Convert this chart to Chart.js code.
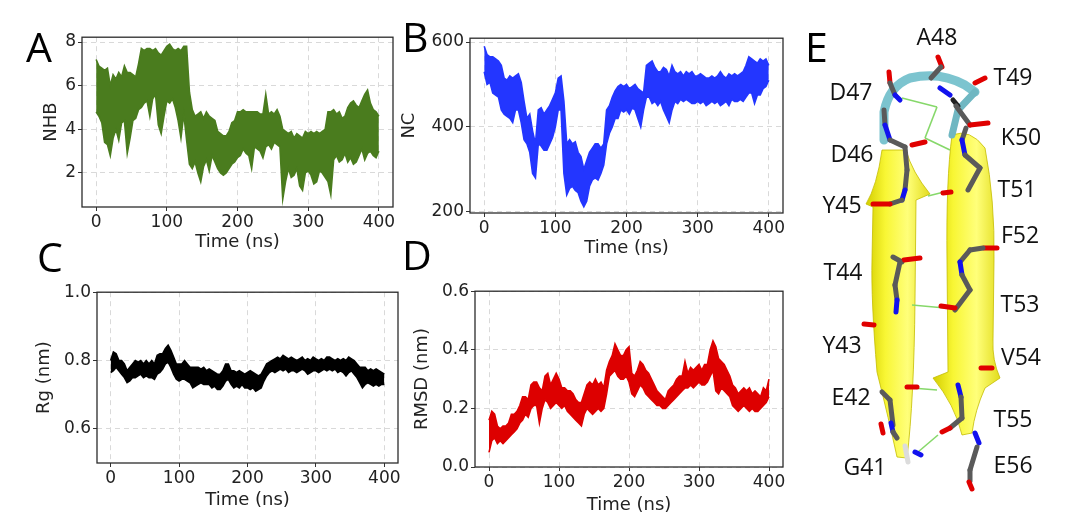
<!DOCTYPE html>
<html>
<head>
<meta charset="utf-8">
<script src="https://cdn.jsdelivr.net/npm/chart.js@4.4.1/dist/chart.umd.min.js"></script>
<style>
  html, body { margin: 0; padding: 0; background: #ffffff; }
  #wrap { position: relative; width: 1080px; height: 524px; overflow: hidden; background: #fff; }
  canvas { position: absolute; }
  #art { position: absolute; left: 0; top: 0; }
  .lbl { font-family: "Open Sans", "Liberation Sans", sans-serif; font-size: 23px; fill: #111; }
  .pl { font-family: "Open Sans", "Liberation Sans", sans-serif; font-size: 41px; fill: #000; }
</style>
</head>
<body>
<div id="wrap">
  <canvas id="cA" width="366" height="232" style="left:37px;top:25px"></canvas>
  <canvas id="cB" width="398" height="237" style="left:395px;top:26px"></canvas>
  <canvas id="cC" width="378" height="235" style="left:30px;top:280px"></canvas>
  <canvas id="cD" width="385" height="241" style="left:408px;top:279px"></canvas>
  <svg id="art" width="1080" height="524" xmlns="http://www.w3.org/2000/svg">
    <defs>
      <linearGradient id="yl" x1="0" x2="1" y1="0" y2="0">
        <stop offset="0" stop-color="#d4ce00"/>
        <stop offset="0.3" stop-color="#f8f634"/>
        <stop offset="0.65" stop-color="#ffff7a"/>
        <stop offset="1" stop-color="#e2dc1c"/>
      </linearGradient>
    </defs>
    <text class="pl" x="26" y="62">A</text>
    <text class="pl" x="402" y="52">B</text>
    <text class="pl" x="37" y="272">C</text>
    <text class="pl" x="402" y="270">D</text>
    <text class="pl" x="805" y="62">E</text>
    <g id="mol"></g>
  </svg>
</div>
<script>
// ---- data: upper / lower edge of each trace, every 4 ns from 0 to 400 ns ----
const timeTitle = 'Time (ns)';
const xTickValues = [0, 100, 200, 300, 400];
const yTicksA = [2, 4, 6, 8];
const yTicksB = [200, 400, 600];
const yTicksC = [0.6, 0.8, 1.0];
const yTicksD = [0.0, 0.2, 0.4, 0.6];

const nhbHi = [
  7.2, 6.9, 6.8, 6.7, 6.8, 6.0, 6.5, 6.3, 6.6, 6.4,
  6.9, 6.6, 6.6, 6.5, 6.4, 7.0, 7.7, 7.6, 7.7, 7.7,
  7.6, 7.7, 7.5, 7.4, 7.6, 7.8, 7.9, 7.7, 7.6, 7.7,
  7.6, 7.8, 7.8, 5.7, 4.9, 4.6, 4.7, 4.8, 4.5, 4.8,
  4.6, 4.5, 4.4, 3.9, 3.8, 3.7, 3.7, 3.9, 4.3, 4.4,
  4.8, 4.8, 4.9, 4.8, 4.8, 4.8, 4.8, 4.8, 4.7, 4.7,
  5.6, 4.7, 4.8, 4.7, 4.9, 4.6, 4.0, 3.9, 3.8, 3.9,
  3.6, 3.8, 3.7, 3.6, 3.9, 3.8, 3.9, 3.8, 3.9, 3.8,
  3.9, 4.0, 4.8, 4.8, 4.9, 4.7, 4.8, 4.5, 4.6, 5.0,
  5.2, 5.3, 5.1, 5.0, 5.3, 5.6, 5.8, 5.2, 4.9, 4.8,
  4.6
];
const nhbLo = [
  4.8, 4.6, 4.3, 3.4, 3.3, 2.8, 3.6, 4.0, 3.5, 4.3,
  4.4, 2.9, 3.6, 4.4, 4.5, 4.9, 5.0, 5.2, 5.3, 4.6,
  5.4, 5.6, 4.2, 3.8, 4.6, 5.3, 5.2, 5.4, 5.0, 4.4,
  3.6, 4.7, 3.5, 2.4, 2.2, 2.5, 2.0, 1.6, 2.3, 2.6,
  2.1, 2.8, 2.5, 2.2, 2.0, 1.9, 2.0, 2.2, 2.4, 2.5,
  2.7, 2.8, 3.1, 2.9, 2.8, 2.2, 3.2, 3.1, 3.0, 2.7,
  3.2, 3.3, 3.1, 3.4, 3.3, 3.2, 0.8, 1.6, 2.2, 1.8,
  1.9, 2.2, 1.4, 1.2, 2.0, 2.1, 1.9, 1.5, 1.6, 2.1,
  2.0, 1.8, 1.6, 1.0, 2.6, 2.8, 2.5, 2.6, 2.9, 2.5,
  2.7, 2.4, 2.5, 2.8, 3.1, 2.6, 2.9, 3.0, 2.8, 2.7,
  3.0
];

const ncHi = [
  590, 570, 565, 565, 560, 555, 545, 515, 510, 520,
  515, 520, 525, 505, 460, 420, 430, 390, 360, 440,
  445, 430, 440, 450, 465, 480, 515, 520, 460, 360,
  370, 360, 365, 340, 330, 300, 320, 340, 350, 360,
  360, 350, 360, 440, 450, 470, 485, 495, 500, 495,
  500, 490, 495, 500, 490, 485, 480, 545, 550, 555,
  540, 530, 530, 540, 535, 520, 545, 530, 525, 530,
  520, 530, 525, 530, 520, 520, 525, 520, 515, 515,
  520, 515, 520, 530, 520, 515, 525, 520, 525, 520,
  525, 530, 545, 565, 560, 555, 550, 560, 555, 560,
  545
];
const ncLo = [
  530, 500, 505, 480, 475, 470, 440, 430, 425, 420,
  410, 440, 440, 410, 370, 360, 340, 290, 280, 360,
  355, 345, 345, 360, 375, 400, 440, 440, 290, 240,
  255, 260, 250, 245, 225, 212, 225, 260, 275, 280,
  275, 290, 310, 360, 385, 400, 420, 420, 440, 435,
  440, 430, 445, 440, 420, 400, 440, 470, 470, 455,
  460, 450, 460, 440, 425, 410, 440, 460, 455, 465,
  460, 465, 460, 455, 455, 460, 455, 460, 450, 455,
  460, 455, 460, 450, 455, 460, 450, 465, 460, 460,
  465, 460, 470, 480, 480, 455, 475, 475, 490, 495,
  510
];

const rgHi = [
  0.80, 0.825, 0.82, 0.80, 0.80, 0.79, 0.77, 0.78, 0.79, 0.80,
  0.795, 0.80, 0.79, 0.80, 0.79, 0.80, 0.79, 0.815, 0.82, 0.82,
  0.835, 0.845, 0.83, 0.81, 0.79, 0.79, 0.79, 0.80, 0.79, 0.78,
  0.78, 0.78, 0.78, 0.775, 0.78, 0.77, 0.775, 0.77, 0.765, 0.76,
  0.76, 0.77, 0.79, 0.79, 0.77, 0.77, 0.765, 0.77, 0.765, 0.76,
  0.765, 0.77, 0.765, 0.76, 0.755, 0.76, 0.775, 0.79, 0.795, 0.80,
  0.805, 0.81, 0.805, 0.815, 0.81, 0.805, 0.81, 0.805, 0.80, 0.805,
  0.81, 0.80, 0.805, 0.80, 0.81, 0.805, 0.80, 0.805, 0.80, 0.81,
  0.81, 0.805, 0.80, 0.805, 0.80, 0.805, 0.80, 0.81, 0.805, 0.80,
  0.79, 0.78, 0.78, 0.78, 0.77, 0.775, 0.77, 0.775, 0.77, 0.765,
  0.76
];
const rgLo = [
  0.765, 0.77, 0.78, 0.77, 0.76, 0.75, 0.735, 0.74, 0.75, 0.75,
  0.755, 0.76, 0.75, 0.755, 0.75, 0.75, 0.745, 0.76, 0.765, 0.775,
  0.79, 0.795, 0.78, 0.76, 0.745, 0.74, 0.745, 0.745, 0.74, 0.735,
  0.72, 0.725, 0.73, 0.735, 0.73, 0.73, 0.73, 0.72, 0.725, 0.715,
  0.715, 0.725, 0.74, 0.745, 0.73, 0.72, 0.725, 0.72, 0.73, 0.72,
  0.72, 0.715, 0.72, 0.71, 0.715, 0.72, 0.74, 0.755, 0.765, 0.77,
  0.765, 0.77, 0.775, 0.77, 0.775, 0.765, 0.77, 0.77, 0.765, 0.77,
  0.775, 0.77, 0.76, 0.765, 0.77, 0.77, 0.765, 0.77, 0.775, 0.77,
  0.775, 0.77, 0.775, 0.765, 0.77, 0.765, 0.755, 0.765, 0.77, 0.76,
  0.75, 0.735, 0.72, 0.73, 0.735, 0.73, 0.725, 0.73, 0.725, 0.73,
  0.73
];

const rmsdHi = [
  0.16, 0.19, 0.18, 0.14, 0.13, 0.14, 0.14, 0.15, 0.18, 0.18,
  0.19, 0.21, 0.24, 0.24, 0.23, 0.28, 0.29, 0.29, 0.27, 0.26,
  0.31, 0.32, 0.28, 0.30, 0.32, 0.30, 0.27, 0.27, 0.26, 0.26,
  0.25, 0.23, 0.22, 0.22, 0.25, 0.28, 0.29, 0.28, 0.30, 0.28,
  0.29, 0.27, 0.33, 0.36, 0.38, 0.42, 0.40, 0.38, 0.38, 0.40,
  0.41, 0.32, 0.31, 0.33, 0.36, 0.35, 0.33, 0.32, 0.30, 0.28,
  0.26, 0.25, 0.24, 0.23, 0.26, 0.27, 0.28, 0.30, 0.31, 0.31,
  0.36, 0.32, 0.34, 0.33, 0.34, 0.35, 0.33, 0.35, 0.35, 0.40,
  0.43, 0.41, 0.37, 0.36, 0.35, 0.33, 0.31, 0.28, 0.27, 0.25,
  0.26, 0.27, 0.26, 0.27, 0.25, 0.26, 0.25, 0.24, 0.27, 0.26,
  0.30
];
const rmsdLo = [
  0.05, 0.09, 0.10, 0.08, 0.09, 0.08, 0.09, 0.10, 0.11, 0.12,
  0.13, 0.15, 0.16, 0.18, 0.17, 0.20, 0.21, 0.21, 0.15, 0.20,
  0.23, 0.22, 0.20, 0.21, 0.22, 0.21, 0.20, 0.21, 0.19, 0.18,
  0.17, 0.16, 0.15, 0.14, 0.18, 0.20, 0.19, 0.18, 0.19, 0.20,
  0.19, 0.20, 0.25, 0.31, 0.32, 0.33, 0.31, 0.30, 0.30, 0.31,
  0.29, 0.25, 0.24, 0.26, 0.28, 0.27, 0.25, 0.24, 0.23, 0.22,
  0.21, 0.21, 0.20, 0.20, 0.21, 0.22, 0.23, 0.24, 0.25, 0.26,
  0.27, 0.27, 0.28, 0.27, 0.28, 0.29, 0.28, 0.28, 0.29, 0.31,
  0.33, 0.26, 0.25, 0.27, 0.26, 0.25, 0.24, 0.21, 0.20, 0.19,
  0.20, 0.21, 0.20, 0.19, 0.20, 0.19, 0.19, 0.20, 0.21, 0.22,
  0.24
];

// ---- charts ----
const FONT = 'DejaVu Sans';
const TXT = '#222';

const boxPlugin = {
  id: 'box',
  afterDraw(chart) {
    const { ctx, chartArea: a } = chart;
    ctx.save();
    ctx.strokeStyle = '#2b2b2b';
    ctx.lineWidth = 1.3;
    ctx.strokeRect(a.left, a.top, a.right - a.left, a.bottom - a.top);
    ctx.restore();
  }
};

function makeChart(id, hi, lo, color, yTitle, yMin, yMax, yTicks, decimals, yWidth, xHeight) {
  const last = hi.length - 1;
  const toPts = arr => arr.map((v, i) => ({ x: i * (400 / last), y: v }));
  const gridCfg = {
    color: '#d9d9d9', lineWidth: 1, drawTicks: true, tickLength: 4,
    tickColor: '#333', tickWidth: 1, tickBorderDash: []
  };
  return new Chart(document.getElementById(id), {
    type: 'line',
    data: { datasets: [
      { data: toPts(hi), borderColor: color, borderWidth: 1.6, pointRadius: 0, tension: 0, fill: false },
      { data: toPts(lo), borderColor: color, borderWidth: 1.6, pointRadius: 0, tension: 0, fill: '-1', backgroundColor: color }
    ] },
    options: {
      responsive: false, animation: false, devicePixelRatio: 1,
      layout: { padding: { top: 8, right: 10, left: 0, bottom: 0 } },
      plugins: { legend: { display: false }, tooltip: { enabled: false } },
      scales: {
        x: {
          type: 'linear', min: -20, max: 420,
          afterFit: s => { s.height = xHeight; },
          afterBuildTicks: s => { s.ticks = xTickValues.map(v => ({ value: v })); },
          ticks: { color: TXT, font: { family: FONT, size: 17 }, padding: 1, maxRotation: 0, autoSkip: false },
          grid: gridCfg,
          border: { display: false, dash: [5, 4] },
          title: { display: true, text: timeTitle, color: TXT, font: { family: FONT, size: 18 }, padding: { top: 2, bottom: 4 } }
        },
        y: {
          min: yMin, max: yMax,
          afterFit: s => { s.width = yWidth; },
          afterBuildTicks: s => { s.ticks = yTicks.map(v => ({ value: v })); },
          ticks: { autoSkip: false, color: TXT, font: { family: FONT, size: 17 }, padding: 2,
                   callback: v => Number(v).toFixed(decimals) },
          grid: gridCfg,
          border: { display: false, dash: [5, 4] },
          title: { display: true, text: yTitle, color: TXT, font: { family: FONT, size: 18 }, padding: { top: 4, bottom: 4 } }
        }
      }
    },
    plugins: [boxPlugin]
  });
}

makeChart('cA', nhbHi, nhbLo, '#4a7c1e', 'NHB', 0.44, 8.22, yTicksA, 0, 45, 50);
makeChart('cB', ncHi, ncLo, '#2336ff', 'NC', 197, 609, yTicksB, 0, 75, 50);
makeChart('cC', rgHi, rgLo, '#000000', 'Rg (nm)', 0.5, 1.0, yTicksC, 1, 67, 52);
makeChart('cD', rmsdHi, rmsdLo, '#dd0000', 'RMSD (nm)', 0, 0.6, yTicksD, 1, 67, 53);

// ---- panel E: schematic of the beta hairpin (illustration) ----
const NS = 'http://www.w3.org/2000/svg';
const mol = document.getElementById('mol');
function el(tag, attrs, text) {
  const e = document.createElementNS(NS, tag);
  for (const k in attrs) e.setAttribute(k, attrs[k]);
  if (text) e.textContent = text;
  mol.appendChild(e);
  return e;
}
el('path', { d: 'M882,150 L906,150 Q912,172 930,194 L916,200 L915,300 Q914,400 907,458 L897,457 Q889,420 877,372 Q871,300 872,260 L873,207 L866,204 Q877,186 882,150 Z',
  fill: 'url(#yl)', stroke: '#c4bc00', 'stroke-width': 0.8 });
el('path', { d: 'M952,135 Q970,128 985,148 Q995,200 994,260 L993,340 Q992,360 1000,378 L985,388 Q975,410 972,433 L962,435 Q955,405 933,378 L948,372 L947,260 Q946,180 952,135 Z',
  fill: 'url(#yl)', stroke: '#c4bc00', 'stroke-width': 0.8 });
el('path', { d: 'M884,140 L884,112 Q889,86 910,78 Q940,71 965,85 L975,92', fill: 'none', stroke: '#7cc4cf', 'stroke-width': 9, 'stroke-linecap': 'round' });
el('path', { d: 'M975,92 L958,110 L952,135', fill: 'none', stroke: '#6fb7c2', 'stroke-width': 7, 'stroke-linecap': 'round' });
const hb = [[902,98,937,107],[937,107,925,138],[925,138,950,150],[928,196,944,192],[912,305,945,308],[912,388,937,390],[918,452,938,435]];
hb.forEach(s => el('line', { x1: s[0], y1: s[1], x2: s[2], y2: s[3], stroke: '#86d86a', 'stroke-width': 1.6 }));
const G = '#5a5a5a', R = '#e00000', B = '#1212ee', W = '#dcdcdc';
const sticks = [
  [884,110,885,125,G],[885,125,890,140,B],[890,140,905,147,G],[912,145,925,142,R],
  [905,147,907,170,G],[907,170,905,190,G],[905,190,902,200,B],[902,200,890,204,G],[890,204,873,204,R],
  [889,72,890,83,R],[890,83,895,95,G],[895,95,900,100,B],
  [938,57,942,67,R],[941,67,931,78,G],
  [975,83,985,78,R],[940,88,950,95,B],[953,100,958,106,'#222'],
  [956,106,970,125,G],[970,125,988,123,R],[966,128,962,140,G],[962,140,965,155,B],[965,155,980,168,G],[980,168,968,190,G],
  [943,193,951,192,R],
  [893,257,902,262,G],[904,260,920,258,R],[900,262,895,285,G],[895,285,897,300,G],[897,300,896,312,B],
  [984,248,997,248,R],[983,248,970,250,G],[970,250,960,262,G],[960,262,962,275,B],[962,275,970,290,G],[970,290,955,310,G],[955,308,941,306,R],
  [864,324,874,325,R],
  [981,368,992,368,R],
  [907,387,917,387,R],[882,392,890,400,G],[890,400,893,425,G],[881,424,883,433,R],[891,423,893,432,B],[893,432,897,438,G],
  [905,446,908,462,W],[915,452,921,455,B],
  [958,385,961,397,B],[961,397,962,418,G],[962,418,950,428,G],[950,428,942,432,R],
  [975,433,979,443,B],[977,447,970,470,G],[970,470,970,481,G],[969,482,972,489,R]
];
sticks.forEach(s => el('line', { x1: s[0], y1: s[1], x2: s[2], y2: s[3], stroke: s[4], 'stroke-width': 5, 'stroke-linecap': 'round' }));
const residues = [
  ['A48',937,45],['T49',1013,85],['D47',851,100],['K50',1021,145],['D46',852,162],['T51',1017,197],
  ['Y45',842,213],['F52',1020,243],['T44',843,280],['T53',1020,312],['Y43',842,353],['V54',1021,365],
  ['E42',851,405],['T55',1013,427],['G41',865,475],['E56',1013,473]
];
residues.forEach(r => el('text', { x: r[1], y: r[2], 'text-anchor': 'middle', class: 'lbl' }, r[0]));
</script>
</body>
</html>
